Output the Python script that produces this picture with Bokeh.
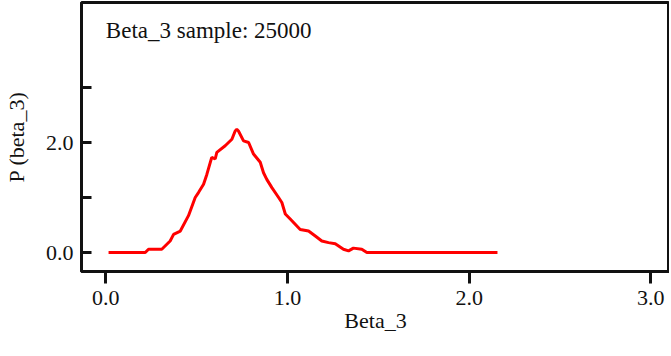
from bokeh.plotting import figure
from bokeh.models import Range1d, FixedTicker, PrintfTickFormatter, Label
from bokeh.embed import file_html
from bokeh.resources import INLINE

# data
beta = [0.015, 0.217, 0.235, 0.308, 0.354, 0.373, 0.41, 0.455, 0.492, 0.51, 0.538, 0.556,
        0.575, 0.583, 0.602, 0.611, 0.657, 0.694, 0.712, 0.721, 0.73, 0.758, 0.786, 0.813,
        0.85, 0.868, 0.886, 0.914, 0.951, 0.969, 0.988, 1.015, 1.07, 1.116, 1.153, 1.189,
        1.226, 1.263, 1.308, 1.336, 1.363, 1.409, 1.437, 2.156]
dens = [0.0, 0.0, 0.06, 0.06, 0.21, 0.33, 0.39, 0.67, 1.0, 1.09, 1.24, 1.42,
        1.64, 1.73, 1.70, 1.82, 1.94, 2.06, 2.21, 2.24, 2.21, 2.03, 2.0, 1.79,
        1.64, 1.45, 1.33, 1.18, 1.0, 0.91, 0.70, 0.61, 0.42, 0.39, 0.30, 0.21,
        0.18, 0.16, 0.06, 0.03, 0.08, 0.06, 0.0, 0.0]
x_ticks = [0, 1, 2, 3]
y_ticks = [0, 1, 2, 3]
title_text = "Beta_3 sample: 25000"

FONT = "Liberation Serif"
INK = "#111111"
Y_TOP = 4.545

p = figure(frame_width=588, frame_height=269, output_backend="svg", toolbar_location=None,
           x_range=Range1d(-0.134, 3.103), y_range=Range1d(-0.345, Y_TOP),
           min_border_left=75, min_border_right=0, min_border_top=2, min_border_bottom=0,
           x_axis_label="Beta_3", y_axis_label="P (beta_3)")
p.grid.visible = False
p.outline_line_color = INK
p.outline_line_width = 3
p.outline_line_alpha = 1.0
p.background_fill_color = "white"
p.border_fill_color = "white"

p.line(beta, dens, line_color="#ff0000", line_width=3)

for ax in (p.xaxis[0], p.yaxis[0]):
    ax.axis_line_width = 3
    ax.axis_line_color = INK
    ax.major_tick_line_width = 3
    ax.major_tick_line_color = INK
    ax.minor_tick_line_color = None
    ax.major_label_text_font = FONT
    ax.major_label_text_font_size = "22px"
    ax.major_label_text_color = INK
    ax.axis_label_text_font = FONT
    ax.axis_label_text_font_size = "22px"
    ax.axis_label_text_font_style = "normal"
    ax.axis_label_text_color = INK
    ax.formatter = PrintfTickFormatter(format="%.1f")

xa = p.xaxis[0]
xa.ticker = FixedTicker(ticks=x_ticks)
xa.major_tick_in = 0
xa.major_tick_out = 12
xa.major_label_standoff = 7
xa.axis_label_standoff = 0

ya = p.yaxis[0]
ya.ticker = FixedTicker(ticks=y_ticks)
ya.major_label_overrides = {1: "", 3: ""}
ya.major_tick_in = 10
ya.major_tick_out = 0
ya.major_label_standoff = 8
ya.axis_label_standoff = 14

p.add_layout(Label(x=0.0, y=Y_TOP, x_offset=0, y_offset=-28, text=title_text,
                   text_font=FONT, text_font_size="23px", text_color=INK,
                   text_baseline="alphabetic", text_align="left"))

open("out.html", "w").write(file_html(p, INLINE))
